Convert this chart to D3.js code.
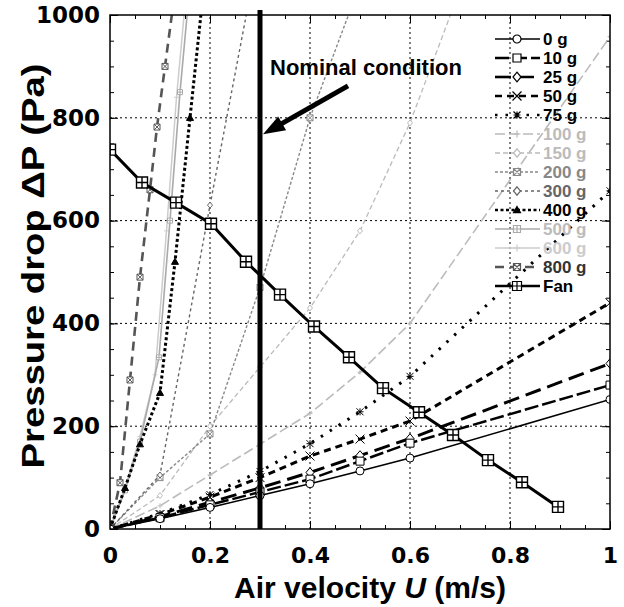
<!doctype html>
<html lang="en">
<head>
    <meta charset="UTF-8">
    <title>Pressure drop vs air velocity</title>
    <style>
        body { margin: 0; background: #fff; }
        svg text { font-family: 'Liberation Sans', Arial, sans-serif; font-weight: bold; }
    </style>
</head>
<body>

<div class="canvas"></div>

<script src="https://d3js.org/d3.v7.min.js"></script>
<script>
    // ---- data: U (m/s) and pressure drop (Pa) ----
    const uStd = [0, 0.1, 0.2, 0.3, 0.4, 0.5, 0.6, 1.0];
    const dp0 = [0, 20, 42, 65, 88, 113, 138, 252];
    const dp10 = [0, 22, 47, 72, 97, 132, 167, 280];
    const dp25 = [0, 24, 52, 80, 110, 143, 176, 322];
    const dp50 = [0, 28, 62, 100, 142, 175, 210, 440];
    const dp75 = [0, 30, 67, 112, 166, 228, 297, 658];
    const dp100 = [0, 45, 105, 165, 225, 305, 400, 958];

    const u150 = [0, 0.1, 0.2, 0.3, 0.4, 0.5, 0.6, 0.7];
    const dp150 = [0, 65, 200, 315, 430, 580, 790, 1050];
    const u200 = [0, 0.1, 0.2, 0.3, 0.4, 0.5];
    const dp200 = [0, 100, 185, 470, 800, 1060];
    const u300 = [0, 0.1, 0.2, 0.3];
    const dp300 = [0, 105, 630, 1140];
    const u400 = [0, 0.03, 0.06, 0.1, 0.13, 0.16, 0.185];
    const dp400 = [0, 80, 165, 265, 520, 800, 1030];
    const u500 = [0, 0.03, 0.06, 0.098, 0.12, 0.14, 0.158];
    const dp500 = [0, 75, 170, 334, 600, 850, 1040];
    const u600 = [0, 0.03, 0.06, 0.09, 0.113, 0.133, 0.152];
    const dp600 = [0, 80, 180, 300, 580, 840, 1040];
    const u800 = [0, 0.02, 0.04, 0.06, 0.08, 0.094, 0.11, 0.125];
    const dp800 = [0, 90, 290, 490, 660, 782, 900, 1010];

    const uFan = [0, 0.064, 0.132, 0.202, 0.272, 0.34, 0.408, 0.478, 0.546, 0.618, 0.686, 0.756, 0.824, 0.896];
    const dpFan = [738, 674, 635, 594, 520, 456, 394, 334, 274, 227, 183, 134, 91, 43];

    const names = ['0 g', '10 g', '25 g', '50 g', '75 g', '100 g', '150 g', '200 g', '300 g', '400 g', '500 g', '600 g', '800 g', 'Fan'];
    const uCols = [uStd, uStd, uStd, uStd, uStd, uStd, u150, u200, u300, u400, u500, u600, u800, uFan];
    const dpCols = [dp0, dp10, dp25, dp50, dp75, dp100, dp150, dp200, dp300, dp400, dp500, dp600, dp800, dpFan];

    const xTicks = [0, 0.2, 0.4, 0.6, 0.8, 1];
    const yTicks = [0, 200, 400, 600, 800, 1000];
    const nominalU = 0.3;

    // ---- styles (kept apart from the data) ----
    const styles = {
        '0 g':   { color: '#000', width: 1.6, dash: null,     marker: 'circle',  size: 4,   fill: '#fff' },
        '10 g':  { color: '#000', width: 2.5, dash: '14,4',   marker: 'square',  size: 4,   fill: '#fff' },
        '25 g':  { color: '#000', width: 3,   dash: '16,7',   marker: 'diamond', size: 4,   fill: '#fff' },
        '50 g':  { color: '#000', width: 3,   dash: '7,5',    marker: 'x',       size: 4.5, fill: 'none' },
        '75 g':  { color: '#000', width: 3,   dash: '2.5,8',  marker: 'star',    size: 3.5, fill: 'none' },
        '100 g': { color: '#bbb', width: 1.6, dash: '10,4',   marker: 'plus',    size: 2.5, fill: 'none' },
        '150 g': { color: '#bbb', width: 1.3, dash: '5,3',    marker: 'diamond', size: 2.5, fill: '#fff' },
        '200 g': { color: '#888', width: 1.4, dash: '3,2',    marker: 'boxx',    size: 3,   fill: '#fff' },
        '300 g': { color: '#666', width: 1.4, dash: '3,3',    marker: 'diamond', size: 2.5, fill: '#fff' },
        '400 g': { color: '#000', width: 3,   dash: '3,2.5',  marker: 'triangle',size: 3.5, fill: '#000' },
        '500 g': { color: '#aaa', width: 1.6, dash: null,     marker: 'boxplus', size: 2.5, fill: '#fff' },
        '600 g': { color: '#ccc', width: 1.5, dash: null,     marker: 'plus',    size: 2.5, fill: 'none' },
        '800 g': { color: '#555', width: 2.6, dash: '9,6',    marker: 'boxx',    size: 3,   fill: '#fff' },
        'Fan':   { color: '#000', width: 3,   dash: null,     marker: 'boxplus', size: 5.5, fill: '#fff' }
    };
    const labelColors = {
        '100 g': '#bbb', '150 g': '#bbb', '200 g': '#888', '300 g': '#666',
        '500 g': '#bbb', '600 g': '#ccc', '800 g': '#333'
    };
    const tickFont = "'DejaVu Sans', 'Liberation Sans', sans-serif";

    const series = names.map((name, i) => ({
        name,
        points: uCols[i].map((u, j) => ({ u, dp: dpCols[i][j] }))
    }));

    // ---- layout ----
    const svgWidth = 624;
    const svgHeight = 607;
    const x = d3.scaleLinear().domain([0, 1]).range([110, 610]);
    const y = d3.scaleLinear().domain([0, 1000]).range([529, 15]);

    const svg = d3.select('.canvas').append('svg')
        .attr('width', svgWidth)
        .attr('height', svgHeight);

    svg.append('defs').append('clipPath').attr('id', 'plot-clip')
        .append('rect')
        .attr('x', x(0)).attr('y', y(1000))
        .attr('width', x(1) - x(0)).attr('height', y(0) - y(1000));

    // grid
    const grid = svg.append('g').attr('stroke', '#000').attr('stroke-width', 1).attr('stroke-dasharray', '2,3');
    grid.selectAll('.gx').data(xTicks.slice(1, -1)).enter().append('line')
        .attr('x1', d => x(d)).attr('x2', d => x(d))
        .attr('y1', y(0)).attr('y2', y(1000));
    grid.selectAll('.gy').data(yTicks.slice(1, -1)).enter().append('line')
        .attr('y1', d => y(d)).attr('y2', d => y(d))
        .attr('x1', x(0)).attr('x2', x(1));

    // axes (ticks pointing inward)
    const xMinor = d3.range(0, 1.0001, 0.05).map(v => +v.toFixed(2));
    const yMinor = d3.range(0, 1001, 50);

    const addAxis = (axis, tx, ty) => {
        const g = svg.append('g').attr('transform', `translate(${tx},${ty})`).call(axis);
        g.select('.domain').remove();
        g.selectAll('line').attr('stroke', '#000');
        return g;
    };

    const bottom = addAxis(d3.axisBottom(x).tickValues(xTicks).tickSizeInner(-8).tickSizeOuter(0)
        .tickPadding(18).tickFormat(d3.format('~g')), 0, y(0));
    addAxis(d3.axisBottom(x).tickValues(xMinor).tickSize(-4).tickFormat(''), 0, y(0));
    addAxis(d3.axisTop(x).tickValues(xTicks).tickSizeInner(-8).tickSizeOuter(0).tickFormat(''), 0, y(1000));
    addAxis(d3.axisTop(x).tickValues(xMinor).tickSize(-4).tickFormat(''), 0, y(1000));
    const left = addAxis(d3.axisLeft(y).tickValues(yTicks).tickSizeInner(-8).tickSizeOuter(0)
        .tickPadding(10).tickFormat(d3.format('d')), x(0), 0);
    addAxis(d3.axisLeft(y).tickValues(yMinor).tickSize(-4).tickFormat(''), x(0), 0);
    addAxis(d3.axisRight(y).tickValues(yTicks).tickSizeInner(-8).tickSizeOuter(0).tickFormat(''), x(1), 0);
    addAxis(d3.axisRight(y).tickValues(yMinor).tickSize(-4).tickFormat(''), x(1), 0);

    bottom.selectAll('text').attr('font-size', 22).attr('fill', '#000')
        .style('font-family', tickFont).style('font-weight', 'bold');
    left.selectAll('text').attr('font-size', 23).attr('fill', '#000')
        .style('font-family', tickFont).style('font-weight', 'bold');

    // markers
    const markerPath = (type, r) => {
        const sq = `M${-r},${-r}H${r}V${r}H${-r}Z`;
        const xs = `M${-r},${-r}L${r},${r}M${r},${-r}L${-r},${r}`;
        const pl = `M${-r},0H${r}M0,${-r}V${r}`;
        switch (type) {
            case 'circle': return `M${-r},0a${r},${r} 0 1,0 ${2 * r},0a${r},${r} 0 1,0 ${-2 * r},0`;
            case 'square': return sq;
            case 'diamond': return `M0,${-r * 1.2}L${r},0L0,${r * 1.2}L${-r},0Z`;
            case 'triangle': return `M0,${-r}L${r},${r * 0.75}L${-r},${r * 0.75}Z`;
            case 'x': return xs;
            case 'plus': return pl;
            case 'star': return xs + pl;
            case 'boxplus': return sq + pl;
            case 'boxx': return sq + xs;
        }
    };

    const line = d3.line().x(d => x(d.u)).y(d => y(d.dp));

    const plot = svg.append('g').attr('clip-path', 'url(#plot-clip)');
    // gray ones underneath, black ones on top
    const order = ['600 g', '500 g', '150 g', '100 g', '200 g', '300 g', '800 g', '400 g', '75 g', '50 g', '25 g', '10 g', '0 g', 'Fan'];
    order.forEach(name => {
        const s = series.find(v => v.name === name);
        const st = styles[name];
        plot.append('path')
            .datum(s.points)
            .attr('d', line)
            .attr('fill', 'none')
            .attr('stroke', st.color)
            .attr('stroke-width', st.width)
            .attr('stroke-dasharray', st.dash);
        plot.selectAll(null).data(s.points).enter().append('path')
            .attr('transform', d => `translate(${x(d.u)},${y(d.dp)})`)
            .attr('d', markerPath(st.marker, st.size))
            .attr('fill', st.fill)
            .attr('stroke', st.color)
            .attr('stroke-width', name === 'Fan' ? 1.4 : 1);
    });

    // frame
    svg.append('rect')
        .attr('x', x(0)).attr('y', y(1000))
        .attr('width', x(1) - x(0)).attr('height', y(0) - y(1000))
        .attr('fill', 'none').attr('stroke', '#000').attr('stroke-width', 1.5);

    // nominal condition line + arrow
    svg.append('line')
        .attr('x1', x(nominalU)).attr('x2', x(nominalU))
        .attr('y1', y(1000) - 5).attr('y2', y(0))
        .attr('stroke', '#000').attr('stroke-width', 5);

    const tail = [x(0.476), y(862)];
    const tip = [x(nominalU) + 3, y(768)];
    const dx = tip[0] - tail[0], dy = tip[1] - tail[1];
    const len = Math.hypot(dx, dy);
    const ux = dx / len, uy = dy / len;
    const headL = 22, headW = 8;
    const base = [tip[0] - ux * headL, tip[1] - uy * headL];
    svg.append('line')
        .attr('x1', tail[0]).attr('y1', tail[1])
        .attr('x2', base[0] + ux * 4).attr('y2', base[1] + uy * 4)
        .attr('stroke', '#000').attr('stroke-width', 5);
    svg.append('path')
        .attr('d', `M${tip[0]},${tip[1]}L${base[0] - uy * headW},${base[1] + ux * headW}L${base[0] + uy * headW},${base[1] - ux * headW}Z`)
        .attr('fill', '#000');

    svg.append('text')
        .attr('x', x(0.32)).attr('y', 75)
        .attr('font-size', 22)
        .text('Nominal condition');

    // legend
    const legend = svg.append('g').attr('transform', 'translate(495, 39)');
    names.forEach((name, i) => {
        const st = styles[name];
        const row = legend.append('g').attr('transform', `translate(0, ${i * 19})`);
        row.append('line')
            .attr('x1', 0).attr('x2', 45)
            .attr('stroke', st.color)
            .attr('stroke-width', Math.min(st.width, 2.6))
            .attr('stroke-dasharray', st.dash);
        row.append('path')
            .attr('transform', 'translate(22,0)')
            .attr('d', markerPath(st.marker, Math.max(3.5, Math.min(st.size, 4.5))))
            .attr('fill', st.fill)
            .attr('stroke', st.color)
            .attr('stroke-width', 1.2);
        row.append('text')
            .attr('x', 48).attr('y', 6)
            .attr('font-size', 17)
            .attr('fill', labelColors[name] || '#000')
            .text(name);
    });

    // axis titles
    const xTitle = svg.append('text')
        .attr('x', 370).attr('y', 598)
        .attr('text-anchor', 'middle')
        .attr('font-size', 30)
        .attr('textLength', 272)
        .attr('lengthAdjust', 'spacingAndGlyphs');
    xTitle.append('tspan').text('Air velocity ');
    xTitle.append('tspan').attr('font-style', 'italic').text('U');
    xTitle.append('tspan').text(' (m/s)');

    svg.append('text')
        .attr('transform', 'translate(44, 266) rotate(-90)')
        .attr('text-anchor', 'middle')
        .attr('font-size', 31)
        .attr('textLength', 405)
        .attr('lengthAdjust', 'spacingAndGlyphs')
        .text('Pressure drop \u0394P (Pa)');
</script>
</body>
</html>
